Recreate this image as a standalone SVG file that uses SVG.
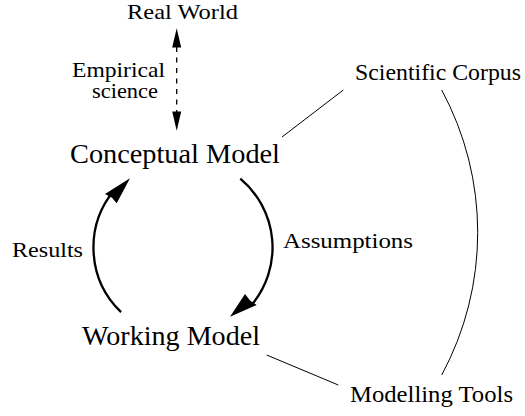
<svg xmlns="http://www.w3.org/2000/svg" width="525" height="416" viewBox="0 0 525 416">
<style>
.thin { fill: none; stroke: #000; stroke-width: 1; }
.thick { fill: none; stroke: #000; stroke-width: 2.3; }
.dash { fill: none; stroke: #000; stroke-width: 1.3; stroke-dasharray: 5 5.5; }
.head { fill: #000; stroke: none; }
.t { font-family: "Liberation Serif", "Times New Roman", serif; fill: #000; }
</style>
<rect width="525" height="416" fill="#fff"/>
<g id="connectors">
  <line class="dash" x1="176.7" y1="47" x2="176.7" y2="112"/>
  <polygon class="head" points="176.7,28.3 172.2,47.5 181.2,47.5"/>
  <polygon class="head" points="176.7,130.7 172.2,111.5 181.2,111.5"/>
  <path class="thick" d="M 121.1 312.2 A 89.5 89.5 0 0 1 114.4 190"/>
  <polygon class="head" points="130,178.3 105,194 112,197.7 116.7,203.3"/>
  <path class="thick" d="M 240.3 178.7 A 89.5 89.5 0 0 1 251.6 305"/>
  <polygon class="head" points="230,316.7 245,294 250,300.6 256.7,305"/>
  <line class="thin" x1="282" y1="137" x2="343.3" y2="90"/>
  <line class="thin" x1="266.7" y1="355" x2="338.3" y2="385"/>
  <path class="thin" d="M 441.7 90 A 300 300 0 0 1 441.7 375"/>
</g>
<g id="real-world"><text class="t" font-size="22" x="127" y="19" textLength="111" lengthAdjust="spacingAndGlyphs">Real World</text></g>
<g id="empirical-science">
  <text class="t" font-size="22" x="72" y="77" textLength="93" lengthAdjust="spacingAndGlyphs">Empirical</text>
  <text class="t" font-size="22" x="92" y="98" textLength="66" lengthAdjust="spacingAndGlyphs">science</text>
</g>
<g id="conceptual-model"><text class="t" font-size="27" x="70" y="163.3" textLength="210" lengthAdjust="spacingAndGlyphs">Conceptual Model</text></g>
<g id="working-model"><text class="t" font-size="27" x="82" y="345" textLength="178" lengthAdjust="spacingAndGlyphs">Working Model</text></g>
<g id="scientific-corpus"><text class="t" font-size="23" x="355" y="80" textLength="166" lengthAdjust="spacingAndGlyphs">Scientific Corpus</text></g>
<g id="modelling-tools"><text class="t" font-size="23" x="350" y="402.3" textLength="163" lengthAdjust="spacingAndGlyphs">Modelling Tools</text></g>
<g id="assumptions"><text class="t" font-size="22" x="283" y="248.3" textLength="130" lengthAdjust="spacingAndGlyphs">Assumptions</text></g>
<g id="results"><text class="t" font-size="22" x="12" y="257" textLength="71" lengthAdjust="spacingAndGlyphs">Results</text></g>
</svg>
